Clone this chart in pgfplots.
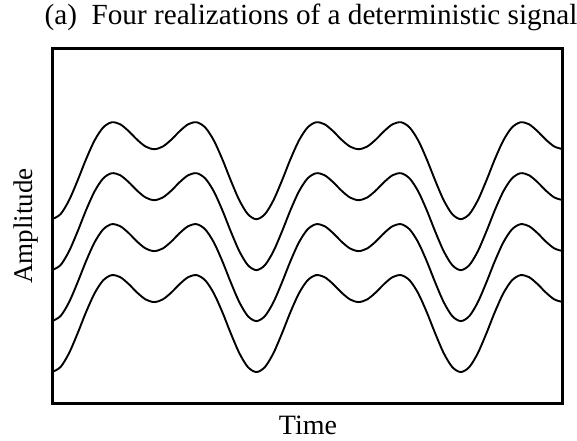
\documentclass[border=0pt]{standalone}
\usepackage{fontspec}
\setmainfont{Liberation Serif}
\usepackage{pgfplots}
\usepackage{pgfplotstable}
\pgfplotsset{compat=1.18}

% one realization (phase in degrees, amplitude)
\pgfplotstableread{
x y
0 -2.236
15 -2.060
30 -1.570
45 -0.874
60 -0.118
75 0.546
90 1.000
105 1.186
120 1.118
135 0.874
150 0.570
165 0.328
180 0.236
195 0.328
210 0.570
225 0.874
240 1.118
255 1.186
270 1.000
285 0.546
300 -0.118
315 -0.874
330 -1.570
345 -2.060
360 -2.236
375 -2.060
390 -1.570
405 -0.874
420 -0.118
435 0.546
450 1.000
465 1.186
480 1.118
495 0.874
510 0.570
525 0.328
540 0.236
555 0.328
570 0.570
585 0.874
600 1.118
615 1.186
630 1.000
645 0.546
660 -0.118
675 -0.874
690 -1.570
705 -2.060
720 -2.236
735 -2.060
750 -1.570
765 -0.874
780 -0.118
795 0.546
810 1.000
825 1.186
840 1.118
855 0.874
870 0.570
885 0.328
900 0.236
}\signal

\begin{document}
\begin{tikzpicture}
\useasboundingbox (-26pt,-18.5pt) rectangle (262.5pt,201.5pt);
\begin{axis}[
    scale only axis,
    width=255.5pt,
    height=177.5pt,
    xmin=0, xmax=900,
    ymin=-3.33, ymax=9.21,
    ticks=none,
    axis line style={line width=1.5pt},
]
\addplot[black, line width=0.95pt, smooth, no markers] table[x=x, y expr=\thisrow{y}+5.4] {\signal};
\addplot[black, line width=0.95pt, smooth, no markers] table[x=x, y expr=\thisrow{y}+3.6] {\signal};
\addplot[black, line width=0.95pt, smooth, no markers] table[x=x, y expr=\thisrow{y}+1.8] {\signal};
\addplot[black, line width=0.95pt, smooth, no markers] table[x=x, y=y] {\signal};
\end{axis}

\node[anchor=base, font=\fontsize{14.6}{16}\selectfont\rmfamily] at (129.5pt,189pt) {(a)\ \ Four realizations of a deterministic signal};
\node[anchor=base, font=\fontsize{14}{16}\selectfont\rmfamily, inner sep=1pt] at (128pt,-15.5pt) {Time};
\node[anchor=base, rotate=90, font=\fontsize{13.5}{15}\selectfont\rmfamily] at (-9.5pt,88.5pt) {Amplitude};
\end{tikzpicture}
\end{document}
